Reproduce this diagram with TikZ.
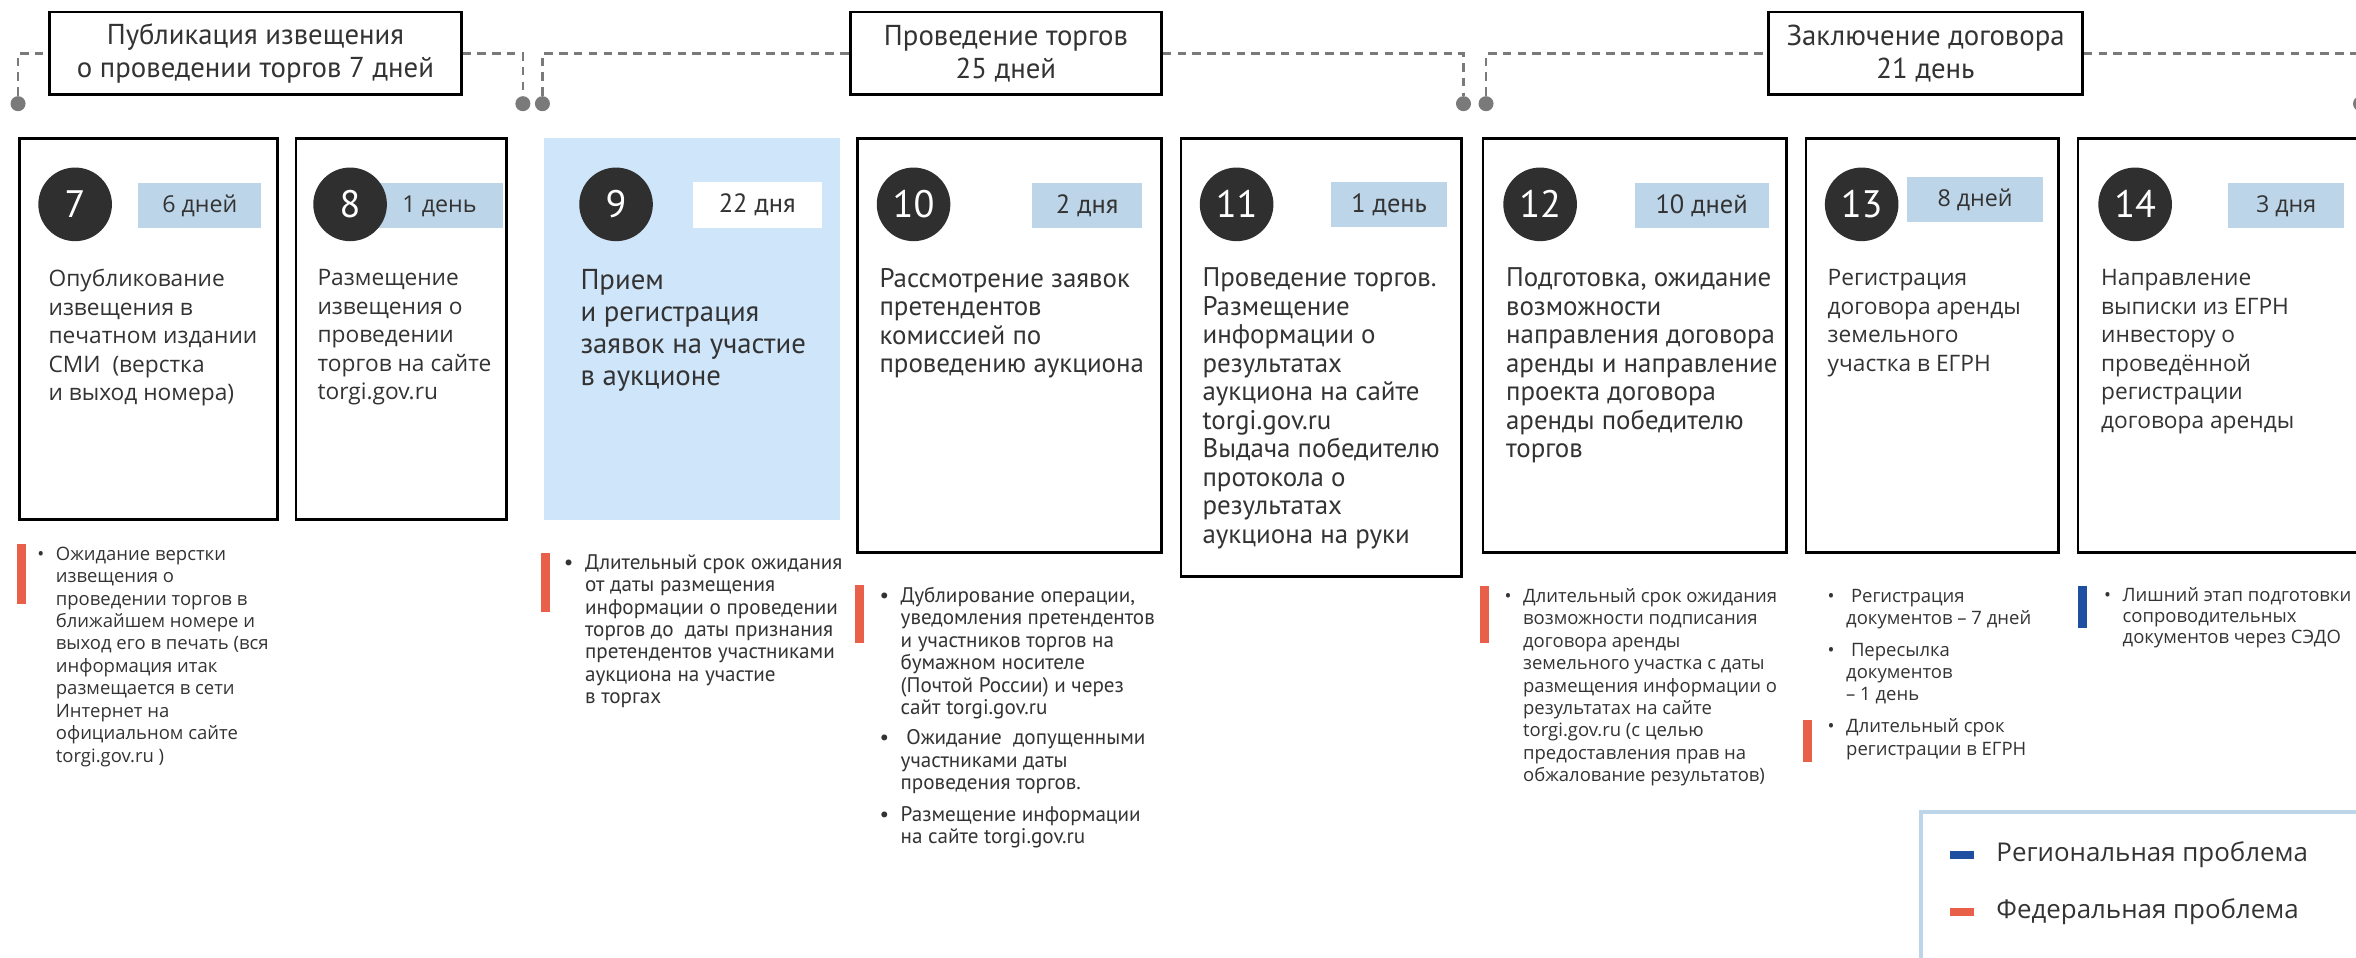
\documentclass[tikz,border=0pt]{standalone}
\usepackage{fontspec}
\setmainfont{Open Sans}
\newfontfamily\narrowfont{PT Sans}
\usepackage{xcolor}
\usetikzlibrary{positioning}

\definecolor{txtgray}{HTML}{333333}
\definecolor{numgray}{HTML}{2F2F2F}
\definecolor{dashgray}{HTML}{7A7A7A}
\definecolor{dayblue}{HTML}{BDD5E8}
\definecolor{recvblue}{HTML}{CFE5FA}
\definecolor{fedred}{HTML}{E9604A}
\definecolor{regblue}{HTML}{1E4FA0}

\begin{document}
\begin{tikzpicture}[x=0.02cm, y=-0.02cm,
    head/.style={draw=black, line width=1pt, fill=white, align=center, inner sep=0pt,
      minimum height=1.1cm, text=txtgray, font=\narrowfont\fontsize{10.9}{12.5}\selectfont},
    timeline/.style={draw=dashgray, line width=1pt, dash pattern=on 3.2pt off 2.4pt},
    tick/.style={circle, fill=dashgray, inner sep=0pt, minimum size=0.2cm},
    card/.style={draw=black, line width=1.1pt, anchor=north west, inner sep=0pt},
    num/.style={circle, fill=numgray, text=white, inner sep=0pt, minimum size=0.98cm,
      font=\narrowfont\fontsize{14.5}{15}\selectfont},
    days/.style={fill=dayblue, inner sep=0pt, minimum height=0.6cm, text=txtgray,
      font=\fontsize{8.8}{10}\selectfont},
    ndays/.style={days, font=\narrowfont\fontsize{10}{11}\selectfont},
    body/.style={anchor=north west, align=left, inner sep=0pt, text=txtgray,
      font=\fontsize{8.6}{10.8}\selectfont},
    nbody/.style={body, font=\narrowfont\fontsize{10.2}{10.8}\selectfont},
    note/.style={anchor=north west, inner sep=0pt, text=txtgray, font=\fontsize{7}{8.5}\selectfont},
    nnote/.style={note, font=\narrowfont\fontsize{8}{8.5}\selectfont},
    legkey/.style={inner sep=0pt, minimum width=0.32cm, minimum height=0.1cm},
    legtext/.style={inner sep=0pt, text=txtgray, font=\fontsize{9.8}{11}\selectfont}]
  \useasboundingbox (0,0) rectangle (1568,637);
  \clip (0,0) rectangle (1568,637);

  % stages on top
  \node[head, minimum width=5.48cm] (h1) at (170,35.5) {Публикация извещения\\о проведении торгов 7 дней};
  \node[head, minimum width=4.14cm] (h2) at (669.5,35.5) {Проведение торгов\\25 дней};
  \node[head, minimum width=4.18cm] (h3) at (1281.5,35.5) {Заключение договора\\21 день};

  \node[tick] (d1) at (12,69) {};
  \node[tick] (d2) at (348,69) {};
  \node[tick] (d3) at (361,69) {};
  \node[tick] (d4) at (974,69) {};
  \node[tick] (d5) at (989,69) {};
  \node[tick] (d6) at (1571,69) {};
  \draw[timeline] (d1) |- (h1);
  \draw[timeline] (h1) -| (d2);
  \draw[timeline] (d3) |- (h2);
  \draw[timeline] (h2) -| (d4);
  \draw[timeline] (d5) |- (h3);
  \draw[timeline] (h3) -| (d6);

  % cards
  \node[card, minimum width=3.44cm, minimum height=5.08cm] (c7) at (12,91) {};
  \node[card, minimum width=2.80cm, minimum height=5.08cm] (c8) at (196,91) {};
  \node[card, draw=none, fill=recvblue, minimum width=3.94cm, minimum height=5.08cm] (c9) at (361,91) {};
  \node[card, minimum width=4.04cm, minimum height=5.52cm] (c10) at (570,91) {};
  \node[card, minimum width=3.74cm, minimum height=5.84cm] (c11) at (785,91) {};
  \node[card, minimum width=4.04cm, minimum height=5.52cm] (c12) at (986,91) {};
  \node[card, minimum width=3.36cm, minimum height=5.52cm] (c13) at (1201,91) {};
  \node[card, minimum width=3.96cm, minimum height=5.52cm] (c14) at (1382,91) {};

  % durations
  \node[days, minimum width=1.64cm] (b7) at (133,137) {6 дней};
  \node[days, minimum width=1.70cm] (b8) at (292.5,137) {1 день};
  \node[ndays, fill=white, minimum width=1.72cm, minimum height=0.62cm] (b9) at (504,136.5) {22 дня};
  \node[ndays, minimum width=1.46cm] (b10) at (723.5,137) {2 дня};
  \node[ndays, minimum width=1.54cm] (b11) at (924.5,136) {1 день};
  \node[ndays, minimum width=1.78cm] (b12) at (1132.5,137) {10 дней};
  \node[days, minimum width=1.82cm] (b13) at (1314.5,133) {8 дней};
  \node[days, minimum width=1.54cm] (b14) at (1521.5,137) {3 дня};

  \node[num] (s7) at (50,136) {7};
  \node[num] (s8) at (233,136) {8};
  \node[num] (s9) at (410,136) {9};
  \node[num] (s10) at (608,136) {10};
  \node[num] (s11) at (823,136) {11};
  \node[num] (s12) at (1025,136) {12};
  \node[num] (s13) at (1239,136) {13};
  \node[num] (s14) at (1421,136) {14};

  \node[body] (t7) at (32,179) {Опубликование\\извещения в\\печатном издании\\СМИ\ \ (верстка\\и выход номера)};
  \node[body] (t8) at (211,179) {Размещение\\извещения о\\проведении\\торгов на сайте\\torgi.gov.ru};
  \node[nbody, font=\narrowfont\fontsize{10.9}{12.1}\selectfont] (t9) at (386,179) {Прием\\и регистрация\\заявок на участие\\в аукционе};
  \node[nbody] (t10) at (585,178) {Рассмотрение заявок\\претендентов\\комиссией по\\проведению аукциона};
  \node[nbody] (t11) at (800,178) {Проведение торгов.\\Размещение\\информации о\\результатах\\аукциона на сайте\\torgi.gov.ru\\Выдача победителю\\протокола о\\результатах\\аукциона на руки};
  \node[nbody] (t12) at (1002,178) {Подготовка, ожидание\\возможности\\направления договора\\аренды и направление\\проекта договора\\аренды победителю\\торгов};
  \node[body] (t13) at (1216,179) {Регистрация\\договора аренды\\земельного\\участка в ЕГРН};
  \node[body] (t14) at (1398,179) {Направление\\выписки из ЕГРН\\инвестору о\\проведённой\\регистрации\\договора аренды};

  % problems
  \fill[fedred] (11,362) rectangle (17,402);
  \node[note] (n7) at (24.5,362) {\begin{tabular}{@{}l@{\hspace{4.4pt}}l@{}}
    •&Ожидание верстки\\ &извещения о\\ &проведении торгов в\\ &ближайшем номере и\\
    &выход его в печать (вся\\ &информация итак\\ &размещается в сети\\ &Интернет на\\
    &официальном сайте\\ &torgi.gov.ru )\end{tabular}};
  \fill[fedred] (360,368) rectangle (366,407);
  \node[nnote] (n9) at (375,368) {\begin{tabular}{@{}l@{\hspace{4.4pt}}l@{}}
    •&Длительный срок ожидания\\ &от даты размещения\\ &информации о проведении\\
    &торгов до\ \ даты признания\\ &претендентов участниками\\ &аукциона на участие\\
    &в торгах\end{tabular}};
  \fill[fedred] (569,389) rectangle (575,428);
  \node[nnote] (n10) at (585,390) {\begin{tabular}{@{}l@{\hspace{4.4pt}}l@{}}
    •&Дублирование операции,\\ &уведомления претендентов\\ &и участников торгов на\\
    &бумажном носителе\\ &(Почтой России) и через\\ &сайт torgi.gov.ru\\[3pt]
    •&\ Ожидание\ \ допущенными\\ &участниками даты\\ &проведения торгов.\\[3.5pt]
    •&Размещение информации\\ &на сайте torgi.gov.ru\end{tabular}};
  \fill[fedred] (985,390) rectangle (991,428);
  \node[note] (n12) at (1001,390) {\begin{tabular}{@{}l@{\hspace{4.4pt}}l@{}}
    •&Длительный срок ожидания\\ &возможности подписания\\ &договора аренды\\
    &земельного участка с даты\\ &размещения информации о\\ &результатах на сайте\\
    &torgi.gov.ru (с целью\\ &предоставления прав на\\ &обжалование результатов)\end{tabular}};
  \node[note] (n13) at (1216,390) {\begin{tabular}{@{}l@{\hspace{4.4pt}}l@{}}
    •&\ Регистрация\\ &документов – 7 дней\\[3.4pt]
    •&\ Пересылка\\ &документов\\ &– 1 день\end{tabular}};
  \fill[fedred] (1200,479) rectangle (1206,507);
  \node[note] (n13b) at (1216,477) {\begin{tabular}{@{}l@{\hspace{4.4pt}}l@{}}
    •&Длительный срок\\ &регистрации в ЕГРН\end{tabular}};
  \fill[regblue] (1383,390) rectangle (1389,418);
  \node[note, font=\fontsize{7}{8}\selectfont] (n14) at (1400,390) {\begin{tabular}{@{}l@{\hspace{4.4pt}}l@{}}
    •&Лишний этап подготовки\\ &сопроводительных\\ &документов через СЭДО\end{tabular}};

  % legend
  \node[draw=dayblue, line width=1.7pt, anchor=north west, inner sep=0pt,
    minimum width=6.2cm, minimum height=2.4cm] (legend) at (1277,539) {};
  \node[legkey, fill=regblue] (kreg) at (1306,569) {};
  \node[legtext, right=0.28cm of kreg] (treg) {Региональная проблема};
  \node[legkey, fill=fedred] (kfed) at (1306,607) {};
  \node[legtext, right=0.28cm of kfed] (tfed) {Федеральная проблема};
\end{tikzpicture}
\end{document}
